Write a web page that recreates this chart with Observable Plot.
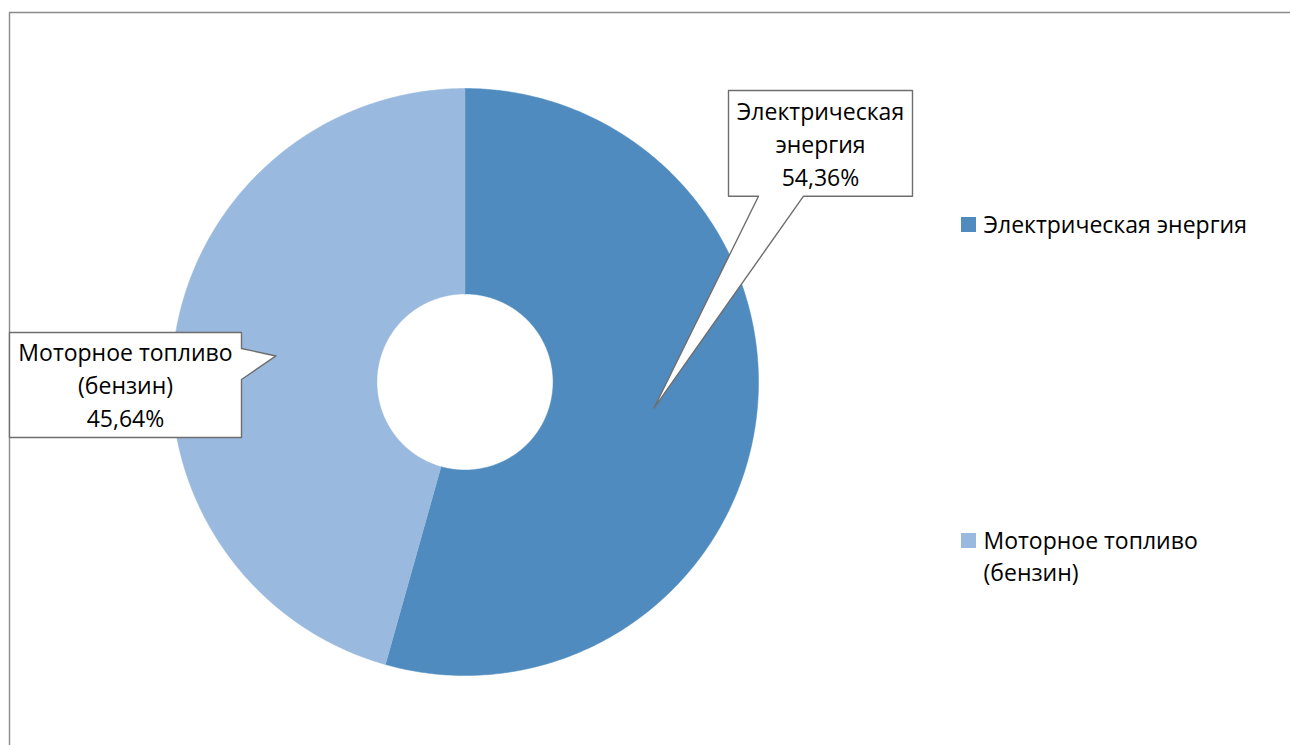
<!DOCTYPE html>
<html>
<head>
<meta charset="utf-8">
<script src="https://cdn.jsdelivr.net/npm/d3@7"></script>
<script src="https://cdn.jsdelivr.net/npm/@observablehq/plot@0.6"></script>
<style>
  html, body { margin: 0; padding: 0; background: #fff; }
  #chart svg { display: block; }
</style>
</head>
<body>
<div id="chart"></div>
<script>
// ---- data ----
const categories = ["Электрическая энергия", "Моторное топливо (бензин)"];
const shares = [54.36, 45.64];
const shareLabels = ["54,36%", "45,64%"];
const calloutLines = [["Электрическая", "энергия"], ["Моторное топливо", "(бензин)"]];
const legendLines = [["Электрическая энергия"], ["Моторное топливо", "(бензин)"]];
const colors = ["#4F8BBE", "#99B9DF"];

// ---- layout (pixels) ----
const W = 1290, H = 745;
const CX = 464.5, CY = 381.5, R = 293.5;
const INNER = 0.3, TIP_R = 0.65;
const FONT = "'Open Sans', sans-serif";
const FS = 23, LH = 33;
const ux = px => (px - CX) / R;
const uy = py => (CY - py) / R;

// ---- donut slices from data ----
const arcs = d3.pie().sort(null)(shares);
const ring = [];
arcs.forEach((a, i) => {
  const n = Math.max(8, Math.ceil((a.endAngle - a.startAngle) / 0.01));
  const outer = d3.range(n + 1).map(k => a.startAngle + (a.endAngle - a.startAngle) * k / n);
  outer.forEach(t => ring.push({cat: categories[i], x: Math.sin(t), y: Math.cos(t)}));
  outer.slice().reverse().forEach(t => ring.push({cat: categories[i], x: INNER * Math.sin(t), y: INNER * Math.cos(t)}));
});
const tips = arcs.map(a => {
  const m = (a.startAngle + a.endAngle) / 2;
  return {x: TIP_R * Math.sin(m), y: TIP_R * Math.cos(m)};
});

// ---- callout boxes (pixel layout) ----
const box1 = {l: 728, r: 912, t: 90, b: 195.7, p1: 758, p2: 803};
const box2 = {l: 9, r: 241, t: 332, b: 437, p1: 348, p2: 379};
const callouts = [];
[
  [[box1.l, box1.t], [box1.r, box1.t], [box1.r, box1.b], [box1.p2, box1.b], null, [box1.p1, box1.b], [box1.l, box1.b], [box1.l, box1.t]],
  [[box2.l, box2.t], [box2.r, box2.t], [box2.r, box2.p1], null, [box2.r, box2.p2], [box2.r, box2.b], [box2.l, box2.b], [box2.l, box2.t]]
].forEach((pts, i) => {
  pts.forEach(p => callouts.push(p ? {id: i, x: ux(p[0]), y: uy(p[1])} : {id: i, x: tips[i].x, y: tips[i].y}));
});

// callout text rows
const calloutText = [];
const cCenters = [[(box1.l + box1.r) / 2, 119], [(box2.l + box2.r) / 2, 360.5]];
calloutLines.forEach((lines, i) => {
  const rows = [...lines, shareLabels[i]];
  rows.forEach((t, k) => calloutText.push({x: ux(cCenters[i][0]), y: uy(cCenters[i][1] + k * LH), text: t}));
});

// legend
const legendSq = [{cat: categories[0], x1: ux(961), x2: ux(976), y1: uy(217), y2: uy(232)},
                  {cat: categories[1], x1: ux(961), x2: ux(976), y1: uy(533), y2: uy(548)}];
const legendBase = [232, 548.5];
const legendText = [];
legendLines.forEach((lines, i) => lines.forEach((t, k) =>
  legendText.push({x: ux(983), y: uy(legendBase[i] + k * 32), text: t})));

// frame
const frame = [{x: ux(9), y: uy(H + 5)}, {x: ux(9), y: uy(12)}, {x: ux(W + 5), y: uy(12)}];

const chart = Plot.plot({
  width: W, height: H,
  marginTop: 0, marginRight: 0, marginBottom: 0, marginLeft: 0,
  x: {domain: [ux(0), ux(W)], axis: null},
  y: {domain: [uy(H), uy(0)], axis: null},
  color: {domain: categories, range: colors},
  style: {fontFamily: FONT, background: "#fff"},
  marks: [
    Plot.line(frame, {x: "x", y: "y", stroke: "#8a8a8a", strokeWidth: 1.4}),
    Plot.line(ring, {x: "x", y: "y", z: "cat", fill: "cat", stroke: "cat", strokeWidth: 0.5, curve: "linear"}),
    Plot.line(callouts, {x: "x", y: "y", z: "id", fill: "#fff", stroke: "#6e6e6e", strokeWidth: 1.4, curve: "linear-closed"}),
    Plot.text(calloutText, {x: "x", y: "y", text: "text", fontSize: FS, fill: "#000", textAnchor: "middle", lineAnchor: "bottom", fontFamily: FONT}),
    Plot.rect(legendSq, {x1: "x1", x2: "x2", y1: "y1", y2: "y2", fill: "cat"}),
    Plot.text(legendText, {x: "x", y: "y", text: "text", fontSize: FS, fill: "#000", textAnchor: "start", lineAnchor: "bottom", fontFamily: FONT})
  ]
});
document.getElementById("chart").appendChild(chart);
</script>
</body>
</html>
